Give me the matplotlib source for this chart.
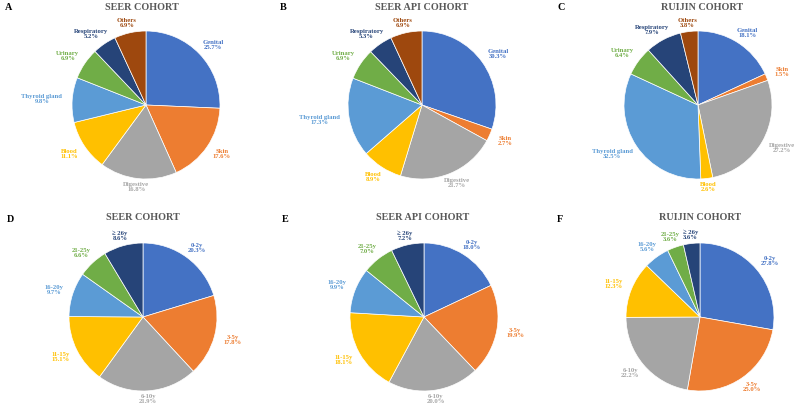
import numpy as np
import matplotlib
matplotlib.use("Agg")
import matplotlib.pyplot as plt

# tumour site share (%) per cohort
sites = ["Genital", "Skin", "Digestive", "Blood", "Thyroid gland", "Urinary", "Respiratory", "Others"]
seer_site = [25.7, 17.6, 16.8, 11.1, 9.8, 6.9, 5.2, 6.9]
seer_api_site = [30.3, 2.7, 21.7, 8.9, 17.3, 6.9, 5.3, 6.9]
ruijin_site = [18.1, 1.5, 27.2, 2.6, 32.5, 6.4, 7.9, 3.8]

# age group share (%) per cohort
ages = ["0-2y", "3-5y", "6-10y", "11-15y", "16-20y", "21-25y", "\u2265 26y"]
seer_age = [20.3, 17.8, 21.9, 15.1, 9.7, 6.6, 8.6]
seer_api_age = [18.0, 19.9, 20.0, 18.1, 9.9, 7.0, 7.2]
ruijin_age = [27.8, 25.0, 22.2, 12.3, 5.6, 3.6, 3.6]

titles = ["SEER COHORT", "SEER API COHORT", "RUIJIN COHORT"]
letters = ["A", "B", "C", "D", "E", "F"]

colors = ["#4472C4", "#ED7D31", "#A5A5A5", "#FFC000", "#5B9BD5", "#70AD47", "#264478", "#9E480E"]

W, H = 794, 409
R = 74
fig = plt.figure(figsize=(W / 100, H / 100), dpi=100)
ax = fig.add_axes([0, 0, 1, 1])

serif = "Liberation Serif"

# pie centres in image pixels (y from top)
panels = [
    (146, 105, seer_site, sites, (142, 7), (5, 8)),
    (422, 105, seer_api_site, sites, (422, 7), (280, 8)),
    (698, 105, ruijin_site, sites, (702, 7), (557, 8)),
    (143, 317, seer_age, ages, (143, 217), (7, 220)),
    (424, 317, seer_api_age, ages, (423, 217), (282, 220)),
    (700, 317, ruijin_age, ages, (700, 217), (557, 219)),
]

pending = []
for i, (cx, cy, vals, names, tpos, lpos) in enumerate(panels):
    cyd = H - cy
    ax.pie(vals, colors=colors[:len(vals)], startangle=90, counterclock=False,
           center=(cx, cyd), radius=R,
           wedgeprops=dict(edgecolor="white", linewidth=0.5))
    ax.text(tpos[0], H - tpos[1], titles[i % 3], ha="center", va="center",
            fontsize=7.3, fontweight="bold", family=serif, color="#595959")
    ax.text(lpos[0], H - lpos[1], letters[i], ha="left", va="center",
            fontsize=7.3, fontweight="bold", family=serif, color="black")

    total = sum(vals)
    cum = 0
    for v, n, c in zip(vals, names, colors):
        mid = np.deg2rad(90 - (cum + v / 2) / total * 360)
        cum += v
        t = ax.text(cx, cyd, f"{n}\n{v:.1f}%", ha="center", va="center",
                    fontsize=4.8, fontweight="bold", family=serif, color=c,
                    linespacing=1.0)
        pending.append((t, mid, cx, cyd))

ax.set_xlim(0, W)
ax.set_ylim(0, H)
ax.set_aspect("auto")
ax.axis("off")

# push each label just outside the rim, like Excel's "outside end"
fig.canvas.draw()
for t, mid, cx, cyd in pending:
    bb = t.get_window_extent()
    c, s = np.cos(mid), np.sin(mid)
    gap = 3 + 7 * abs(c)
    x = cx + (R + gap) * c + bb.width / 2 * c
    y = cyd + (R + gap) * s + bb.height / 2 * s
    t.set_position((x, y))

fig.savefig("out.png", dpi=100, facecolor="white")
